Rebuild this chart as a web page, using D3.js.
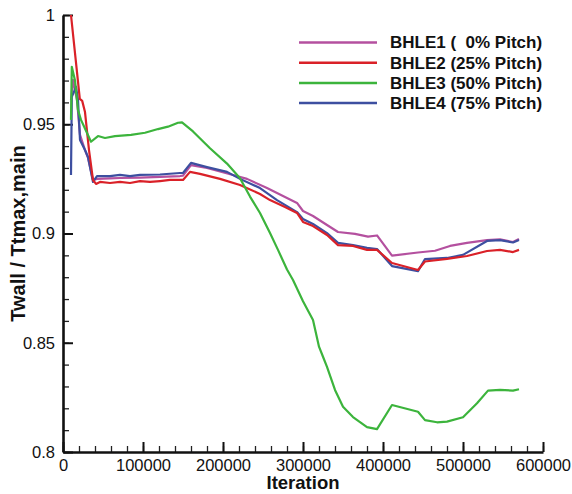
<!DOCTYPE html>
<html>
<head>
<meta charset="utf-8">
<script src="https://cdn.jsdelivr.net/npm/d3@7"></script>
<style>
  body { margin: 0; background: #fff; }
  svg { display: block; font-family: "Liberation Sans", Arial, sans-serif; }
  .legend text { white-space: pre; }
</style>
</head>
<body>
<div id="chart"></div>
<script>
// data: [iteration, Twall / Ttmax,main]
const seriesNames = ["BHLE1 (  0% Pitch)", "BHLE2 (25% Pitch)", "BHLE3 (50% Pitch)", "BHLE4 (75% Pitch)"];
const seriesColors = ["#b4509f", "#da2128", "#3cb43c", "#3d4fa0"];

const bhle1 = [
    [10000, 0.9611], [12500, 0.9703], [17500, 0.9611], [21250, 0.9451], [27500, 0.9382],
    [31250, 0.9346], [37500, 0.9245], [42500, 0.9250], [58750, 0.9252], [71250, 0.9254],
    [96250, 0.9256], [121250, 0.9259], [146250, 0.9263], [150000, 0.9265], [160000, 0.9313],
    [180000, 0.9300], [212500, 0.9268], [230000, 0.9250], [255000, 0.9208], [292500, 0.9140],
    [300000, 0.9103], [312500, 0.9080], [330000, 0.9039], [343750, 0.9007], [365000, 0.8998],
    [381250, 0.8986], [392500, 0.8991], [411250, 0.8899], [443750, 0.8913], [465000, 0.8921],
    [483750, 0.8943], [505000, 0.8957], [530000, 0.8970], [546250, 0.8973], [562500, 0.8961],
    [570000, 0.8975]
];

const bhle2 = [
    [10000, 1.0], [21000, 0.9616], [24000, 0.9607], [27500, 0.9556], [32500, 0.9382],
    [37500, 0.9245], [41250, 0.9227], [46250, 0.9236], [58750, 0.9231], [71250, 0.9236],
    [83750, 0.9231], [96250, 0.9240], [108750, 0.9236], [121250, 0.9240], [133750, 0.9245],
    [150000, 0.9245], [158750, 0.9282], [171250, 0.9273], [196250, 0.9250], [221250, 0.9222],
    [246250, 0.9181], [258750, 0.9153], [277500, 0.9121], [292500, 0.9094], [300000, 0.9053],
    [312500, 0.9034], [330000, 0.8993], [343750, 0.8947], [362500, 0.8943], [380000, 0.8925],
    [392500, 0.8925], [411250, 0.8865], [443750, 0.8833], [452500, 0.8872], [480000, 0.8884],
    [505000, 0.8897], [530000, 0.8920], [546250, 0.8925], [562500, 0.8915], [570000, 0.8925]
];

const bhle3 = [
    [10000, 0.9520], [11000, 0.9763], [15000, 0.9700], [18750, 0.9565], [22500, 0.9520],
    [28750, 0.9470], [35000, 0.9420], [43750, 0.9446], [52500, 0.9437], [65000, 0.9446],
    [85000, 0.9451], [102500, 0.9461], [118750, 0.9478], [131250, 0.9489], [143750, 0.9507],
    [148750, 0.9509], [162500, 0.9467], [183750, 0.9390], [205000, 0.9320], [221250, 0.9253],
    [233750, 0.9169], [246250, 0.9094], [258750, 0.9002], [268750, 0.8925], [280000, 0.8835],
    [287500, 0.8787], [300000, 0.8690], [312500, 0.8604], [320000, 0.8482], [325000, 0.8436],
    [330000, 0.8390], [340000, 0.8284], [350000, 0.8207], [362500, 0.8160], [380000, 0.8114],
    [392500, 0.8105], [411250, 0.8215], [443750, 0.8184], [452500, 0.8146], [467500, 0.8136],
    [480000, 0.8139], [500000, 0.8159], [517500, 0.8223], [531250, 0.8281], [546250, 0.8284],
    [562500, 0.8281], [570000, 0.8287]
];

const bhle4 = [
    [10000, 0.9268], [11000, 0.9625], [16250, 0.9671], [18750, 0.9611], [21250, 0.9428],
    [27500, 0.9382], [31250, 0.9350], [37500, 0.9236], [42500, 0.9263], [58750, 0.9263],
    [71250, 0.9268], [83750, 0.9263], [96250, 0.9268], [121250, 0.9270], [146250, 0.9277],
    [150000, 0.9277], [160000, 0.9323], [180000, 0.9304], [205000, 0.9282], [221250, 0.9250],
    [246250, 0.9208], [267500, 0.9153], [292500, 0.9098], [300000, 0.9066], [312500, 0.9044],
    [330000, 0.9002], [343750, 0.8957], [362500, 0.8947], [380000, 0.8934], [392500, 0.8929],
    [411250, 0.8851], [443750, 0.8828], [452500, 0.8883], [480000, 0.8888], [500000, 0.8902],
    [530000, 0.8966], [546250, 0.8970], [562500, 0.8959], [570000, 0.8970]
];

const xTicks = [0, 100000, 200000, 300000, 400000, 500000, 600000];
const yTicks = [0.8, 0.85, 0.9, 0.95, 1];
const yTickLabels = ["0.8", "0.85", "0.9", "0.95", "1"];

const allSeries = [bhle1, bhle2, bhle3, bhle4];
const drawOrder = [0, 3, 1, 2]; // purple under blue, red, green on top

/* size and margins */
const width = 572, height = 494;
const margin = {top: 15, right: 29, bottom: 42, left: 63};

const svg = d3.select("#chart")
    .append("svg")
    .attr("width", width)
    .attr("height", height);

/* scales */
const xScale = d3.scaleLinear()
    .domain([0, 600000])
    .range([margin.left, width - margin.right]);
const yScale = d3.scaleLinear()
    .domain([0.8, 1])
    .range([height - margin.bottom, margin.top]);

/* minor ticks first, inward */
svg.append("g")
    .attr("class", "minor")
    .attr("transform", `translate(0, ${yScale(0.8)})`)
    .call(d3.axisBottom(xScale).tickValues(d3.range(0, 600001, 20000)).tickSize(-6).tickFormat(""));
svg.append("g")
    .attr("class", "minor")
    .attr("transform", `translate(${xScale(0)}, 0)`)
    .call(d3.axisLeft(yScale).tickValues(d3.range(80, 101).map(d => d / 100)).tickSize(-6).tickFormat(""));
svg.selectAll(".minor path").remove();
svg.selectAll(".minor line").attr("stroke", "#222").attr("stroke-width", 1.3);

/* major axes */
const xAxis = d3.axisBottom(xScale)
    .tickValues(xTicks)
    .tickSizeInner(-10)
    .tickSizeOuter(0)
    .tickPadding(7)
    .tickFormat(d3.format("d"));
const yAxis = d3.axisLeft(yScale)
    .tickValues(yTicks)
    .tickSizeInner(-10)
    .tickSizeOuter(0)
    .tickPadding(8)
    .tickFormat((d, i) => yTickLabels[i]);

const xGroup = svg.append("g")
    .attr("transform", `translate(0, ${yScale(0.8)})`)
    .call(xAxis);
const yGroup = svg.append("g")
    .attr("transform", `translate(${xScale(0)}, 0)`)
    .call(yAxis);

[xGroup, yGroup].forEach(g => {
    g.select(".domain").attr("stroke", "#111").attr("stroke-width", 2.6);
    g.selectAll(".tick line").attr("stroke", "#111").attr("stroke-width", 2);
    g.selectAll("text").attr("font-size", 16.5).attr("fill", "#111")
        .attr("font-family", "'Liberation Sans', Arial, sans-serif");
});

/* lines */
const line = d3.line()
    .x(d => xScale(d[0]))
    .y(d => yScale(d[1]));

svg.append("g")
    .selectAll("path")
    .data(drawOrder)
    .join("path")
    .attr("d", i => line(allSeries[i]))
    .attr("fill", "none")
    .attr("stroke", i => seriesColors[i])
    .attr("stroke-width", 2.2)
    .attr("stroke-linejoin", "round");

/* axis titles */
svg.append("text")
    .attr("x", 303)
    .attr("y", 489)
    .attr("text-anchor", "middle")
    .attr("font-size", 18.5)
    .attr("font-weight", "bold")
    .attr("fill", "#111")
    .text("Iteration");

svg.append("text")
    .attr("transform", `translate(25, ${(yScale(0.8) + yScale(1)) / 2}) rotate(-90)`)
    .attr("text-anchor", "middle")
    .attr("font-size", 20)
    .attr("font-weight", "bold")
    .attr("fill", "#111")
    .text("Twall / Ttmax,main");

/* legend */
const legend = svg.append("g")
    .attr("class", "legend")
    .selectAll("g")
    .data(seriesNames)
    .join("g")
    .attr("transform", (d, i) => `translate(299, ${42.5 + i * 20.2})`);

legend.append("line")
    .attr("x1", 0).attr("x2", 78)
    .attr("stroke", (d, i) => seriesColors[i])
    .attr("stroke-width", 2.5);

legend.append("text")
    .attr("x", 91)
    .attr("dy", "0.35em")
    .attr("font-size", 17)
    .attr("font-weight", "bold")
    .attr("fill", "#111")
    .text(d => d);
</script>
</body>
</html>
